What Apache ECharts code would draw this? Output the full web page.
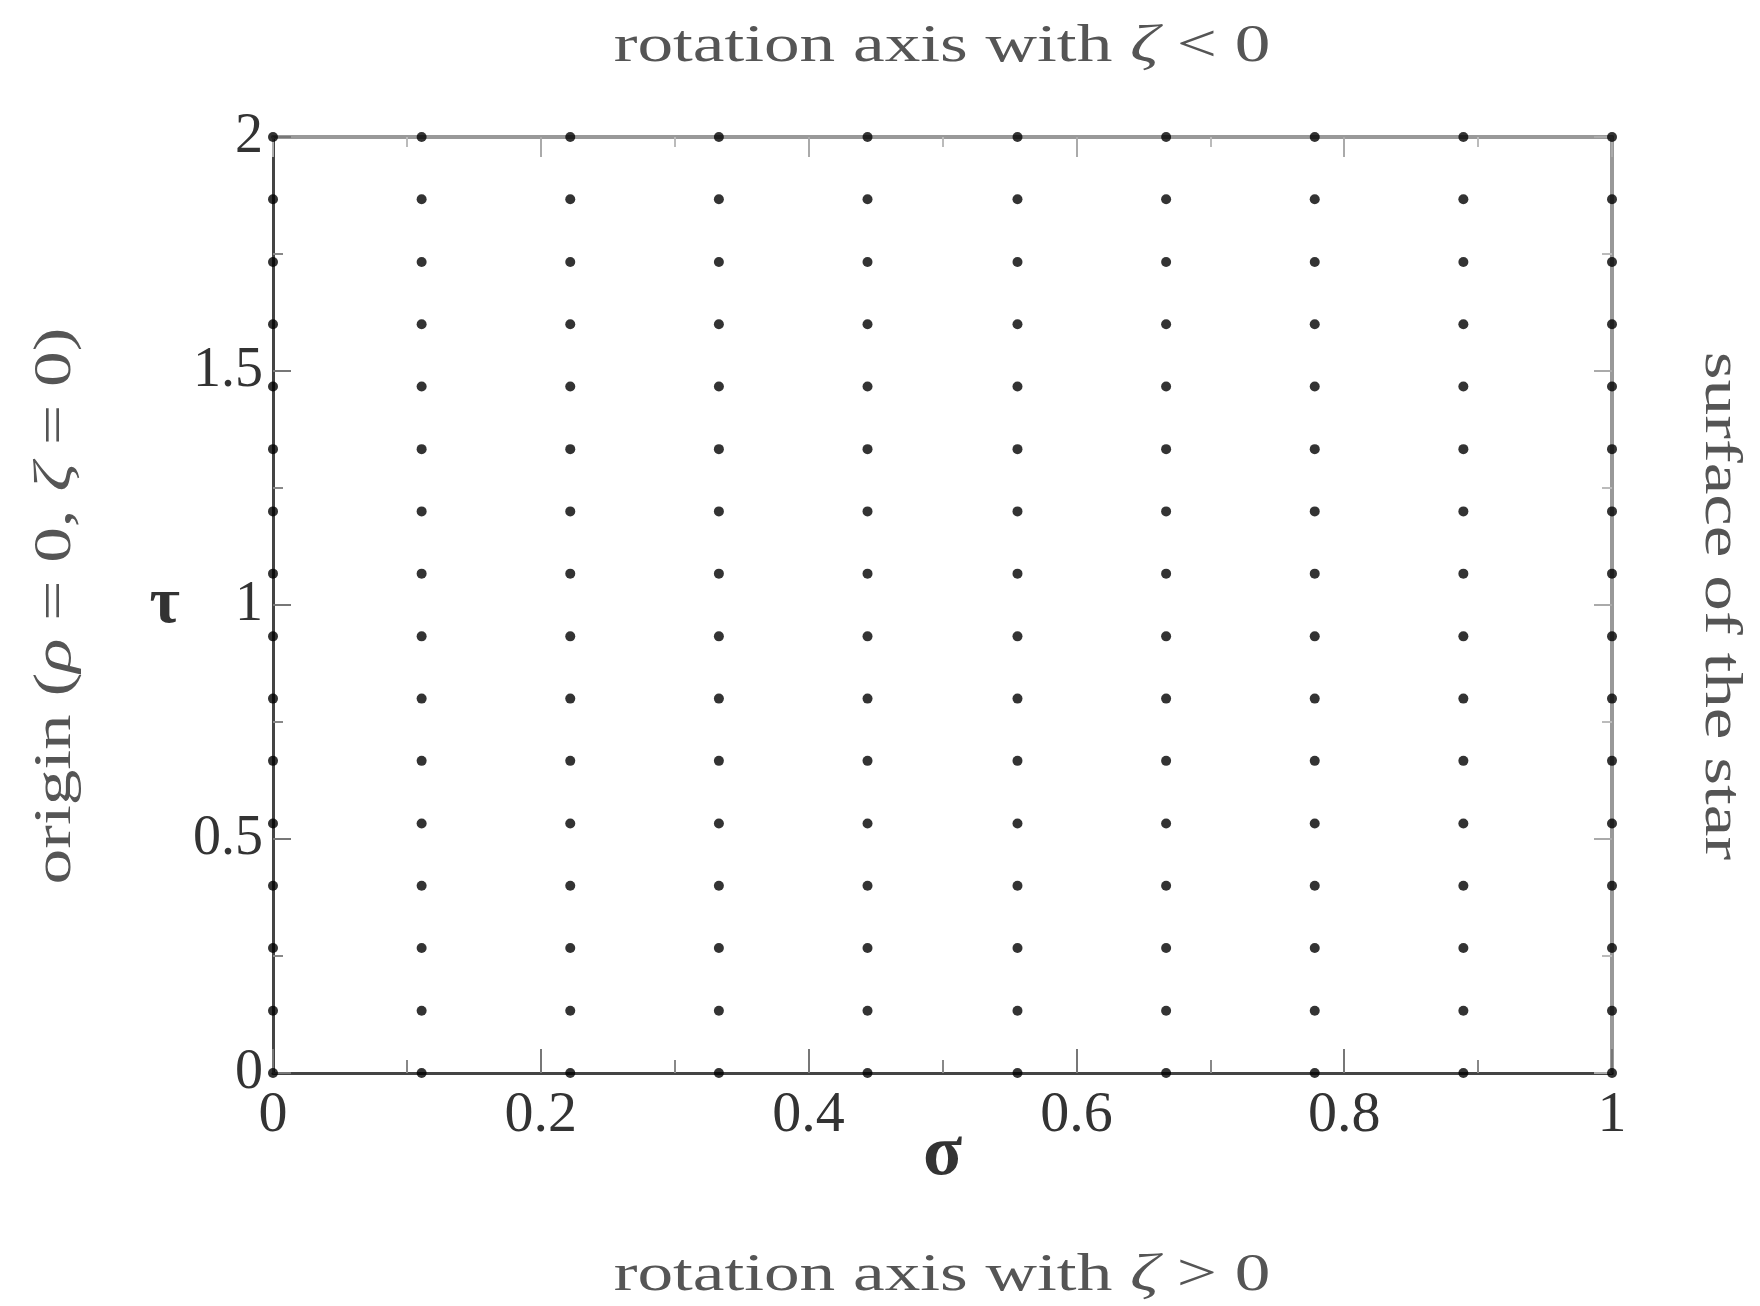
<!DOCTYPE html>
<html>
<head>
<meta charset="utf-8">
<script src="https://cdn.jsdelivr.net/npm/echarts@6/dist/echarts.min.js"></script>
<style>html,body{margin:0;padding:0;background:#fff;}#c{width:1760px;height:1306px;}</style>
</head>
<body>
<div id="c"></div>
<script>
// σ grid values (columns) and τ grid values (rows)
const sigmaValues = [0, 0.111, 0.222, 0.333, 0.444, 0.556, 0.667, 0.778, 0.889, 1];
const tauValues = [0, 0.133, 0.267, 0.4, 0.533, 0.667, 0.8, 0.933, 1.067, 1.2, 1.333, 1.467, 1.6, 1.733, 1.867, 2];
const xTickLabels = ['0', '0.2', '0.4', '0.6', '0.8', '1'];
const yTickLabels = ['0', '0.5', '1', '1.5', '2'];
const xName = 'σ';
const yName = 'τ';
const topText = 'rotation axis with {i|ζ} < 0';
const bottomText = 'rotation axis with {i|ζ} > 0';
const leftText = 'origin ({i|ρ} = 0, {i|ζ} = 0)';
const rightText = 'surface of the star';

const points = [];
for (const s of sigmaValues) for (const t of tauValues) points.push([s, t]);

const serif = '"Liberation Serif", "DejaVu Serif", serif';
const fmtX = v => { const i = Math.round(v / 0.2); return Math.abs(v - i * 0.2) < 1e-6 ? xTickLabels[i] : ''; };
const fmtY = v => { const i = Math.round(v / 0.5); return Math.abs(v - i * 0.5) < 1e-6 ? yTickLabels[i] : ''; };

const chart = echarts.init(document.getElementById('c'));
const gridPos = { left: 273, right: 148, top: 137, bottom: 233 };
const rich = { i: { fontFamily: serif, fontStyle: 'italic', fontSize: 52, fill: '#555', color: '#555' } };
const SX = 1.37;

chart.setOption({
  backgroundColor: '#fff',
  animation: false,
  grid: gridPos,
  xAxis: [
    {
      type: 'value', position: 'bottom', min: 0, max: 1, interval: 0.2,
      axisLine: { onZero: false, lineStyle: { color: '#444', width: 3 } },
      axisTick: { inside: true, length: 24, lineStyle: { color: '#777', width: 2 } },
      minorTick: { show: true, splitNumber: 2, length: 13, lineStyle: { color: '#888', width: 2 } },
      splitLine: { show: false },
      axisLabel: { formatter: fmtX, margin: 14, fontFamily: serif, fontSize: 58, color: '#333' },
      name: xName, nameLocation: 'middle', nameGap: 46, nameMoveOverlap: false,
      nameTextStyle: { fontFamily: serif, fontSize: 72, fontWeight: 'bold', color: '#333' }
    },
    {
      type: 'value', position: 'top', min: 0, max: 1, interval: 0.2,
      axisLine: { onZero: false, lineStyle: { color: '#999', width: 4 } },
      axisTick: { inside: true, length: 20, lineStyle: { color: '#aaa', width: 2 } },
      minorTick: { show: true, splitNumber: 2, length: 10, lineStyle: { color: '#bbb', width: 2 } },
      splitLine: { show: false },
      axisLabel: { show: false }
    }
  ],
  yAxis: [
    {
      type: 'value', position: 'left', min: 0, max: 2, interval: 0.5,
      axisLine: { onZero: false, lineStyle: { color: '#444', width: 3 } },
      axisTick: { inside: true, length: 18, lineStyle: { color: '#777', width: 2 } },
      minorTick: { show: true, splitNumber: 2, length: 10, lineStyle: { color: '#888', width: 2 } },
      splitLine: { show: false },
      axisLabel: { formatter: fmtY, margin: 10, fontFamily: serif, fontSize: 56, color: '#333' },
      name: yName, nameLocation: 'middle', nameGap: 93, nameRotate: 0, nameMoveOverlap: false,
      nameTextStyle: { fontFamily: serif, fontSize: 66, fontWeight: 'bold', color: '#333' }
    },
    {
      type: 'value', position: 'right', min: 0, max: 2, interval: 0.5,
      axisLine: { onZero: false, lineStyle: { color: '#999', width: 4 } },
      axisTick: { inside: true, length: 18, lineStyle: { color: '#aaa', width: 2 } },
      minorTick: { show: true, splitNumber: 2, length: 10, lineStyle: { color: '#bbb', width: 2 } },
      splitLine: { show: false },
      axisLabel: { show: false }
    }
  ],
  series: [{
    type: 'scatter', xAxisIndex: 0, yAxisIndex: 0, clip: false, z: 10,
    symbol: 'circle', symbolSize: 10,
    itemStyle: { color: '#000' },
    data: points
  }],
  graphic: [
    { type: 'text', x: 942, y: 47, scaleX: SX, style: { text: topText, rich: rich, font: '52px ' + serif, fill: '#555', align: 'center', verticalAlign: 'middle' } },
    { type: 'text', x: 942, y: 1276, scaleX: SX, style: { text: bottomText, rich: rich, font: '52px ' + serif, fill: '#555', align: 'center', verticalAlign: 'middle' } },
    { type: 'text', x: 56, y: 606, rotation: Math.PI / 2, scaleX: SX, style: { text: leftText, rich: rich, font: '52px ' + serif, fill: '#555', align: 'center', verticalAlign: 'middle' } },
    { type: 'text', x: 1720, y: 606, rotation: -Math.PI / 2, scaleX: SX, style: { text: rightText, font: '52px ' + serif, fill: '#555', align: 'center', verticalAlign: 'middle' } }
  ]
});
</script>
</body>
</html>
